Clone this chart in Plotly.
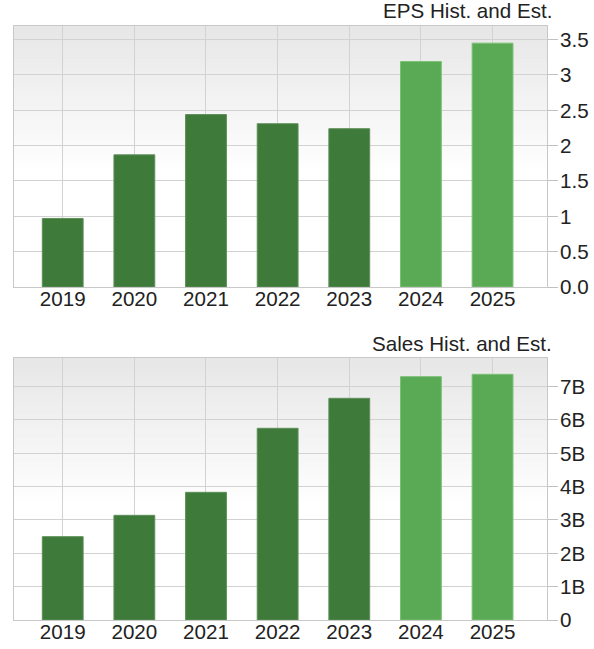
import plotly.graph_objects as go

# --- Datos ---
años = ['2019', '2020', '2021', '2022', '2023', '2024', '2025']
eps = [0.97, 1.87, 2.44, 2.31, 2.24, 3.19, 3.45]
ventas = [2.50e9, 3.14e9, 3.83e9, 5.75e9, 6.65e9, 7.30e9, 7.37e9]
es_estimado = [False, False, False, False, False, True, True]

eps_ticks = [0, 0.5, 1, 1.5, 2, 2.5, 3, 3.5]
eps_ticktext = ['0.0', '0.5', '1', '1.5', '2', '2.5', '3', '3.5']
ventas_ticks = [0, 1e9, 2e9, 3e9, 4e9, 5e9, 6e9, 7e9]
ventas_ticktext = ['0', '1B', '2B', '3B', '4B', '5B', '6B', '7B']

# --- Estilos ---
VERDE_HIST = '#3e7a39'
VERDE_EST = '#5aaa55'
BORDE_HIST = '#5f8f5a'
BORDE_EST = '#7cc076'
FUENTE = 'Liberation Sans, Arial, sans-serif'
TAM = 20.6

colores = [VERDE_EST if e else VERDE_HIST for e in es_estimado]
bordes = [BORDE_EST if e else BORDE_HIST for e in es_estimado]

W, H = 594, 649


def px_x(p):
    return p / W


def px_y(p):
    return 1 - p / H


dominio_x = [px_x(14), px_x(547)]
dominio_eps = [px_y(287), px_y(25.5)]
dominio_ventas = [px_y(620), px_y(358.3)]

fig = go.Figure()

fig.add_trace(go.Bar(
    x=años, y=eps, width=0.57,
    marker=dict(color=colores, line=dict(color=bordes, width=1)),
    xaxis='x', yaxis='y', showlegend=False, hoverinfo='x+y'
))

fig.add_trace(go.Bar(
    x=años, y=ventas, width=0.57,
    marker=dict(color=colores, line=dict(color=bordes, width=1)),
    xaxis='x2', yaxis='y2', showlegend=False, hoverinfo='x+y'
))

# Fondo degradado (gris arriba -> blanco)
formas = []
n_bandas = 30
for eje in ['', '2']:
    for i in range(n_bandas):
        t = i / n_bandas
        gris = int(231 + (255 - 231) * t)
        y1 = 1 - t * 0.55
        y0 = 1 - (i + 1) / n_bandas * 0.55
        formas.append(dict(
            type='rect', xref='x' + eje + ' domain', yref='y' + eje + ' domain',
            x0=0, x1=1, y0=y0, y1=y1 + 0.002,
            fillcolor=f'rgb({gris},{gris},{gris})',
            line=dict(width=0), layer='below'
        ))

eje_x = dict(
    type='category', range=[-0.68, 6.76], domain=dominio_x,
    showgrid=True, gridcolor='#d2d2d2', gridwidth=1,
    showline=True, linecolor='#c8c8c8', linewidth=1, mirror=True,
    ticks='', ticklabelstandoff=-7,
    tickfont=dict(family=FUENTE, size=TAM, color='#222222'),
    fixedrange=True, automargin=False
)

eje_y = dict(
    side='right', showgrid=True, gridcolor='#d2d2d2', gridwidth=1,
    showline=True, linecolor='#c8c8c8', linewidth=1, mirror=True,
    ticks='outside', ticklen=10, tickcolor='#c0c0c0', ticklabelstandoff=-2,
    tickfont=dict(family=FUENTE, size=TAM, color='#222222'),
    zeroline=False, fixedrange=True, automargin=False
)

fig.update_layout(
    width=W, height=H,
    margin=dict(l=0, r=0, t=0, b=0),
    paper_bgcolor='white', plot_bgcolor='white',
    template='none',
    xaxis=dict(eje_x, anchor='y'),
    yaxis=dict(eje_y, domain=dominio_eps, range=[0, 3.7],
               tickvals=eps_ticks, ticktext=eps_ticktext, anchor='x'),
    xaxis2=dict(eje_x, anchor='y2'),
    yaxis2=dict(eje_y, domain=dominio_ventas, range=[0, 7.85e9],
                tickvals=ventas_ticks, ticktext=ventas_ticktext, anchor='x2'),
    shapes=formas,
    annotations=[
        dict(text='EPS Hist. and Est.', xref='paper', yref='paper',
             x=px_x(554), y=px_y(10), xanchor='right', yanchor='middle',
             showarrow=False, font=dict(family=FUENTE, size=TAM, color='#222222')),
        dict(text='Sales Hist. and Est.', xref='paper', yref='paper',
             x=px_x(554), y=px_y(343), xanchor='right', yanchor='middle',
             showarrow=False, font=dict(family=FUENTE, size=TAM, color='#222222')),
    ],
    bargap=0.43
)

# quitar el margen de 8px del body para que la figura empiece en (0, 0)
fig.write_html('out.html', config={'displayModeBar': False},
               post_script="document.body.style.margin = '0';")
